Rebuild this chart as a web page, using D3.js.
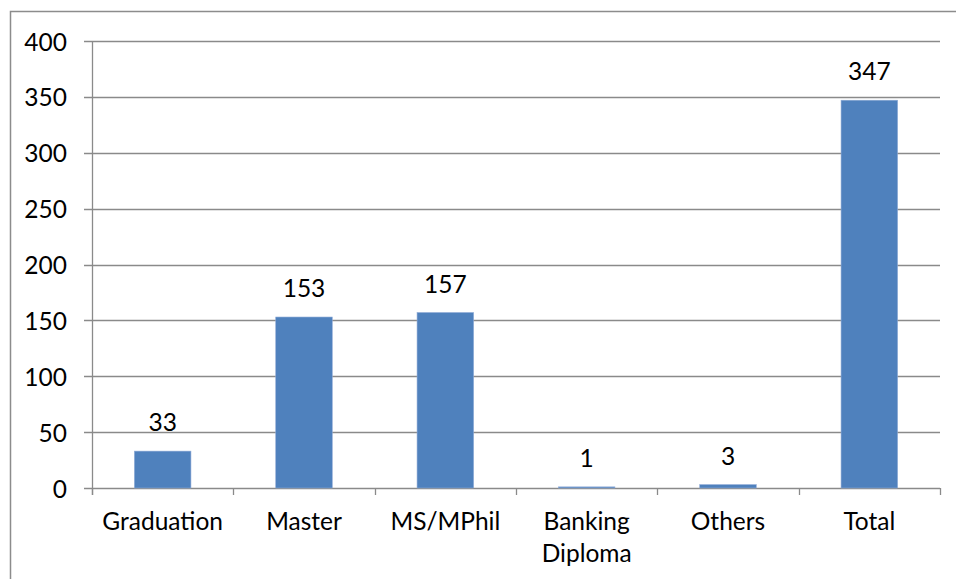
<!DOCTYPE html>
<html>
<head>
<meta charset="utf-8">
<script src="https://cdn.jsdelivr.net/npm/d3@7"></script>
<style>
  html, body { margin: 0; padding: 0; background: #fff; }
  svg { display: block; }
  text { font-family: "Lato", "Open Sans", sans-serif; fill: #000; }
</style>
</head>
<body>
<svg id="chart" width="956" height="579"></svg>
<script>
// Qualification counts
const categories = ["Graduation", "Master", "MS/MPhil", "Banking Diploma", "Others", "Total"];
const categoryLines = [["Graduation"], ["Master"], ["MS/MPhil"], ["Banking", "Diploma"], ["Others"], ["Total"]];
const values = [33, 153, 157, 1, 3, 347];
const yTicks = [0, 50, 100, 150, 200, 250, 300, 350, 400];

const svg = d3.select("#chart");
const W = 956, H = 579;
const plot = { left: 92, right: 940, top: 41, bottom: 488 };
const fontSize = "24.5px";

// chart frame
svg.append("rect")
  .attr("x", 10.5).attr("y", 11.5)
  .attr("width", W).attr("height", H)
  .attr("fill", "none").attr("stroke", "#8c8c8c").attr("stroke-width", 1.5);

const x = d3.scaleBand().domain(categories).range([plot.left, plot.right]).paddingInner(0.6).paddingOuter(0.3);
const xb = d3.scaleBand().domain(categories).range([plot.left, plot.right]);
const y = d3.scaleLinear().domain([0, 400]).range([plot.bottom, plot.top]);

// horizontal gridlines with left tick marks
const gy = svg.append("g");
gy.selectAll("line.grid").data(yTicks).enter().append("line")
  .attr("x1", plot.left - 8).attr("x2", plot.right)
  .attr("y1", d => Math.round(y(d)) + 0.5).attr("y2", d => Math.round(y(d)) + 0.5)
  .attr("stroke", "#8a8a8a").attr("stroke-width", 1.3);
gy.selectAll("text").data(yTicks).enter().append("text")
  .attr("x", 67).attr("y", d => y(d))
  .attr("text-anchor", "end").attr("dominant-baseline", "central")
  .style("font-size", fontSize)
  .text(d => d);

// vertical axis line
svg.append("line")
  .attr("x1", plot.left + 0.5).attr("x2", plot.left + 0.5)
  .attr("y1", plot.top).attr("y2", plot.bottom + 7)
  .attr("stroke", "#8a8a8a").attr("stroke-width", 1.3);

// category tick marks at band boundaries
const bounds = categories.map(c => xb(c)).concat([plot.right]);
svg.selectAll("line.xtick").data(bounds).enter().append("line")
  .attr("x1", d => Math.round(d) + 0.5).attr("x2", d => Math.round(d) + 0.5)
  .attr("y1", plot.bottom).attr("y2", plot.bottom + 7)
  .attr("stroke", "#8a8a8a").attr("stroke-width", 1.3);

// bars
svg.selectAll("rect.bar").data(values).enter().append("rect")
  .attr("x", (d, i) => x(categories[i]))
  .attr("width", x.bandwidth())
  .attr("y", d => y(d))
  .attr("height", d => y(0) - y(d))
  .attr("fill", "#4f81bd")
  .attr("stroke", "#8eaad6").attr("stroke-width", 0.6);

// value labels
svg.selectAll("text.val").data(values).enter().append("text")
  .attr("x", (d, i) => x(categories[i]) + x.bandwidth() / 2)
  .attr("y", d => y(d) - 20)
  .attr("text-anchor", "middle")
  .style("font-size", fontSize)
  .text(d => d);

// category labels
const labels = svg.selectAll("text.cat").data(categoryLines).enter().append("text")
  .attr("text-anchor", "middle")
  .style("font-size", fontSize);
labels.each(function(lines, i) {
  const cx = xb(categories[i]) + xb.bandwidth() / 2;
  d3.select(this).selectAll("tspan").data(lines).enter().append("tspan")
    .attr("x", cx)
    .attr("y", (l, j) => 530 + j * 32)
    .text(l => l);
});
</script>
</body>
</html>
